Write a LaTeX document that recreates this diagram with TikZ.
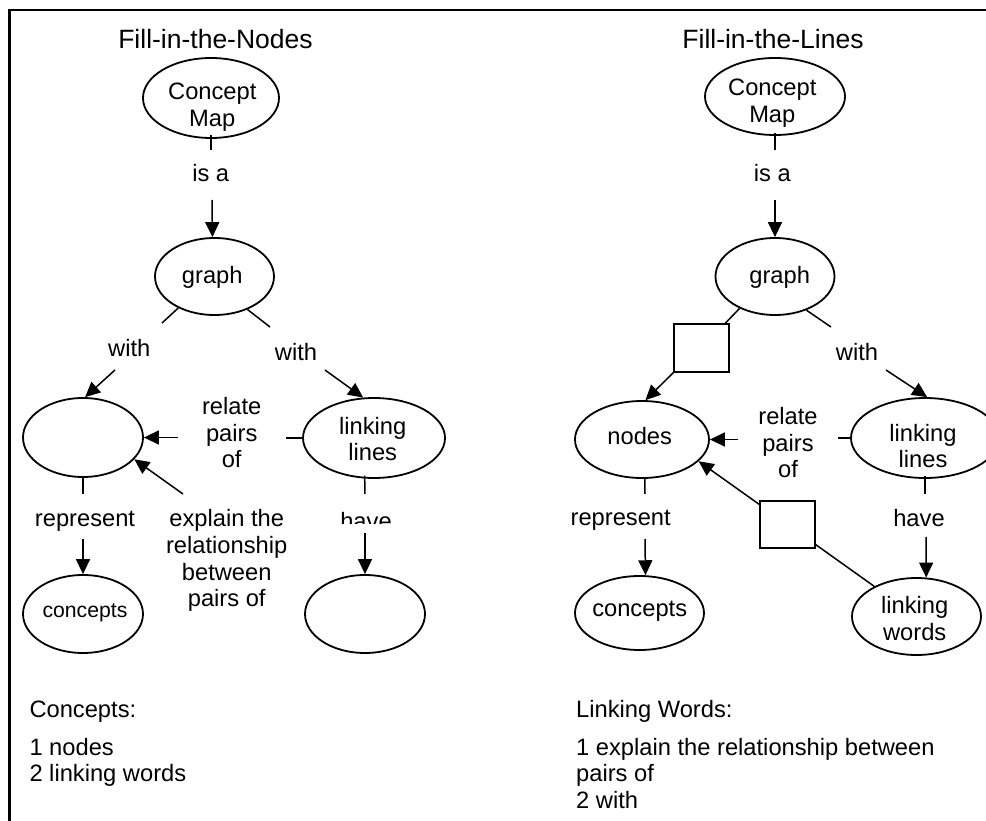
\documentclass[tikz,border=0pt]{standalone}
\usepackage{fontspec}
\setmainfont{Liberation Sans}
\usetikzlibrary{shapes.geometric,arrows.meta}
\begin{document}
\begin{tikzpicture}[x=1pt,y=-1pt,
  ell/.style={draw, ellipse, line width=1.8pt, inner sep=0pt},
  txt/.style={font=\fontsize{23.7}{26.7}\selectfont, align=center, inner sep=0pt, anchor=base},
  smalltxt/.style={font=\fontsize{21.2}{24}\selectfont, inner sep=0pt, anchor=base},
  ttl/.style={font=\fontsize{26.5}{30}\selectfont, inner sep=0pt, anchor=base},
  lst/.style={font=\fontsize{23.7}{26.7}\selectfont, align=left, inner sep=0pt, anchor=base west},
  conn/.style={line width=1.5pt},
  arr/.style={conn, -{Triangle[length=15pt,width=14pt]}},
  blank/.style={draw, rectangle, line width=1.5pt, minimum width=55pt, minimum height=48pt, inner sep=0pt}]
\useasboundingbox (0,0) rectangle (986,821);
\clip (0,0) rectangle (986,821);
% frame
\draw[line width=2.4pt] (9.3,830) -- (9.3,10.3) -- (995,10.3);

% ---------------- left panel ----------------
\node[ttl] (ttlL) at (215.5,48.3) {Fill-in-the-Nodes};
\node[ell, minimum width=136pt, minimum height=80pt] (cmL) at (211,98) {};
\node[txt] (cmLt) at (212.3,126.5) {Concept\\Map};
\node[ell, minimum width=119pt, minimum height=77pt] (grL) at (214.5,276.5) {};
\node[txt] (grLt) at (212.3,283.3) {graph};
\node[ell, minimum width=120pt, minimum height=79pt] (nL) at (83,437.5) {};
\node[ell, minimum width=142pt, minimum height=80pt] (llL) at (374,438) {};
\node[txt] (llLt) at (372.7,460.7) {linking\\lines};
\node[ell, minimum width=120pt, minimum height=78pt] (coL) at (83,614) {};
\node[smalltxt] (coLt) at (85,617.5) {concepts};
\node[ell, minimum width=120pt, minimum height=78pt] (emL) at (365,614) {};

\node[txt] (isaL) at (210.7,181.7) {is a};
\node[txt] (w1L) at (129.3,356) {with};
\node[txt] (w2L) at (296,360) {with};
\node[txt] (relL) at (231.7,467.7) {relate\\pairs\\of};
\node[txt] (repL) at (85,526.7) {represent};
\node[txt] (expL) at (226.7,606.8) {explain the\\relationship\\between\\pairs of};
\begin{scope}
\clip (330,500) rectangle (400,523.5);
\node[txt] (hvL) at (366,529) {have};
\end{scope}

\coordinate (t1L) at (211,150);
\coordinate (a1L) at (212,200);
\coordinate (g1L) at (162,323);
\coordinate (a2L) at (115,370);
\coordinate (g2L) at (270,327);
\coordinate (a3L) at (325,370);
\coordinate (r1L) at (286,438);
\coordinate (a4L) at (178,437.5);
\coordinate (a5L) at (183,494);
\coordinate (t2L) at (83,494);
\coordinate (a6L) at (83,539);
\coordinate (t3L) at (365,494);
\coordinate (a7L) at (365,533);

\draw[conn] ([yshift=4pt]cmL.south) -- (t1L);
\draw[arr] (a1L) -- (grL.93);
\draw[conn] (grL.221) -- (g1L);
\draw[arr] (a2L) -- (nL.87);
\draw[conn] (grL.-45) -- (g2L);
\draw[arr] (a3L) -- (llL.105);
\draw[conn] ([xshift=2pt]llL.west) -- (r1L);
\draw[arr] (a4L) -- (nL.east);
\draw[arr] (a5L) -- (nL.-23);
\draw[conn] (nL.south) -- (t2L);
\draw[arr] (a6L) -- (coL.north);
\draw[conn] ([yshift=3pt]llL.257) -- (t3L);
\draw[arr] (a7L) -- (emL.north);

\node[txt, anchor=base west] (conT) at (29.3,717.3) {Concepts:};
\node[lst] (conL) at (29.3,781.7) {1 nodes\\2 linking words};

% ---------------- right panel ----------------
\node[ttl] (ttlR) at (773,48.3) {Fill-in-the-Lines};
\node[ell, minimum width=140pt, minimum height=77pt] (cmR) at (775,96.5) {};
\node[txt] (cmRt) at (772.3,122.7) {Concept\\Map};
\node[ell, minimum width=119pt, minimum height=77pt] (grR) at (775,276.5) {};
\node[txt] (grRt) at (779.7,283.3) {graph};
\node[ell, minimum width=134pt, minimum height=77pt] (ndR) at (642,439.5) {};
\node[txt] (ndRt) at (639.7,444.3) {nodes};
\node[ell, minimum width=148pt, minimum height=80pt] (llR) at (925,438) {};
\node[txt] (llRt) at (923,467.7) {linking\\lines};
\node[ell, minimum width=129pt, minimum height=74pt] (coR) at (639.5,613) {};
\node[txt] (coRt) at (639.7,616.7) {concepts};
\node[ell, minimum width=129pt, minimum height=77pt] (lwR) at (916.5,616.5) {};
\node[txt] (lwRt) at (914.7,640) {linking\\words};
\node[blank] (sq1) at (701.5,348) {};
\node[blank, minimum height=47pt] (sq2) at (787.5,524.5) {};

\node[txt] (isaR) at (772.3,181.7) {is a};
\node[txt] (w2R) at (857,360) {with};
\node[txt] (relR) at (788,477.7) {relate\\pairs\\of};
\node[txt] (repR) at (620.7,525.7) {represent};
\node[txt] (hvR) at (919,526.7) {have};

\coordinate (t1R) at (775,150);
\coordinate (a1R) at (775,200);
\coordinate (g2R) at (831,327);
\coordinate (a3R) at (886,370);
\coordinate (r1R) at (838,438);
\coordinate (a4R) at (738,439.5);
\coordinate (t2R) at (645,494);
\coordinate (a6R) at (645,539);
\coordinate (t3R) at (925,494);
\coordinate (a7R) at (926,537);

\draw[conn] ([yshift=3pt]cmR.south) -- (t1R);
\draw[arr] (a1R) -- (grR.north);
\draw[conn] (grR.222) -- (sq1);
\draw[arr] (sq1.south west) -- (ndR.85);
\draw[conn] (grR.-47) -- (g2R);
\draw[arr] (a3R) -- (llR.87);
\draw[conn] ([xshift=2pt]llR.west) -- (r1R);
\draw[arr] (a4R) -- (ndR.east);
\draw[conn] (ndR.274) -- (t2R);
\draw[arr] (a6R) -- (coR.81.5);
\draw[arr] (sq2) -- (ndR.-21);
\draw[conn] (sq2) -- (lwR);
\draw[conn] ([yshift=3pt]llR.south) -- (t3R);
\draw[arr] (a7R) -- (lwR.76);

\node[txt, anchor=base west] (lwT) at (576,717.3) {Linking Words:};
\node[lst] (lwL) at (576,808.4) {1 explain the relationship between\\pairs of\\2 with};
\end{tikzpicture}
\end{document}
